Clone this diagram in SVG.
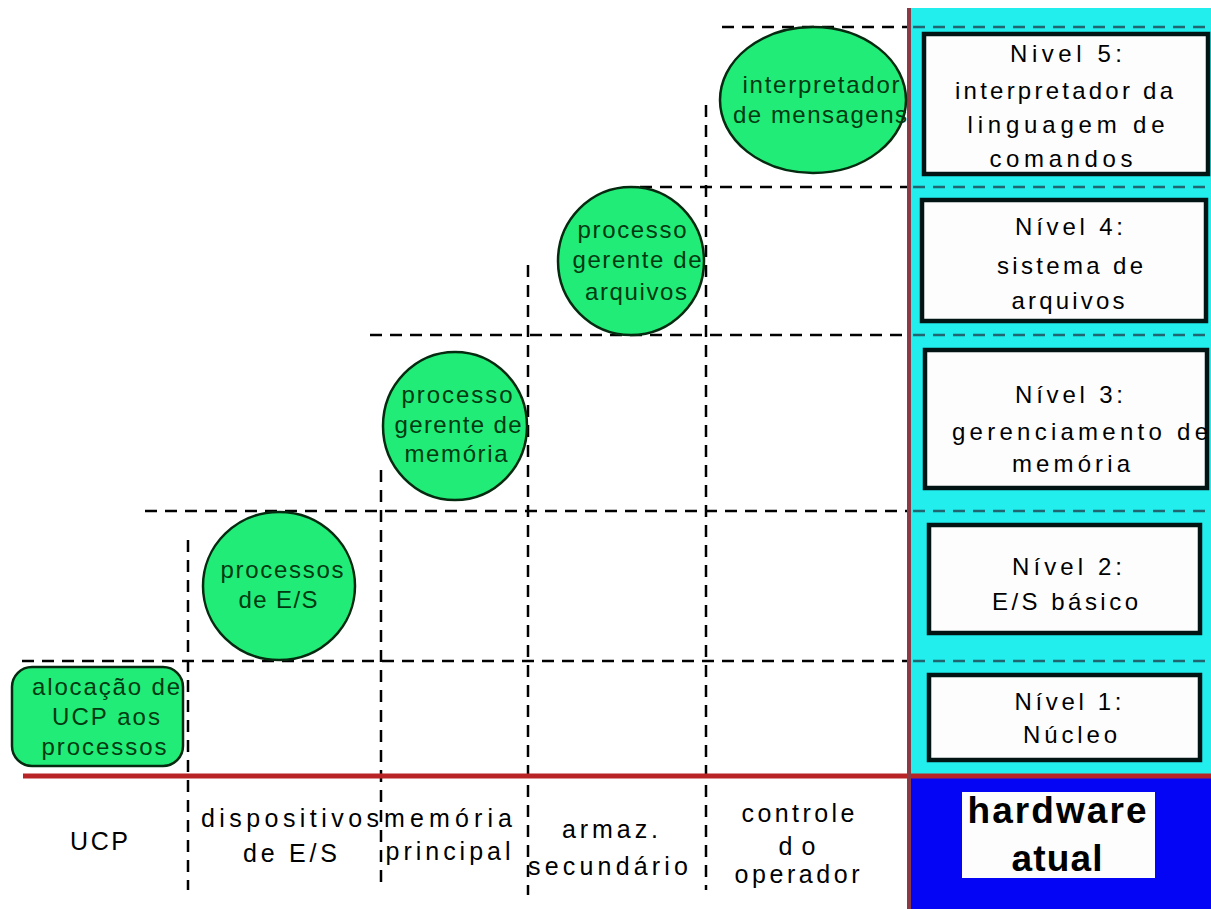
<svg xmlns="http://www.w3.org/2000/svg" width="1211" height="909" viewBox="0 0 1211 909">
<style>
.grid{stroke:#000;stroke-width:2.5;stroke-dasharray:12 8;fill:none}
.gridc{stroke:#1f6670;stroke-width:2.5;stroke-dasharray:12 8;fill:none}
.proc{fill:#22ec78;stroke:#062a10;stroke-width:2.5}
.pt{font-family:"Liberation Sans",Arial,sans-serif;font-size:24px;fill:#003a10;text-anchor:middle}
.box{fill:#fdfdfd;stroke:#021414;stroke-width:4.5}
.bt{font-family:"Liberation Sans",Arial,sans-serif;font-size:24px;fill:#000;text-anchor:middle}
.lt{font-family:"Liberation Sans",Arial,sans-serif;font-size:25px;fill:#000;text-anchor:middle}
.hw{font-family:"Liberation Sans",Arial,sans-serif;font-size:37px;font-weight:bold;fill:#000;text-anchor:middle}
</style>
<rect x="0" y="0" width="1211" height="909" fill="#ffffff"/>
<!-- panels -->
<rect x="911" y="8" width="300" height="768" fill="#22eeee"/>
<rect x="911" y="776" width="300" height="133" fill="#0505f5"/>

<g id="connectors">
  <!-- horizontal dashed grid lines -->
  <line class="grid" x1="722" y1="27" x2="909" y2="27"/>
  <line class="gridc" x1="913" y1="27" x2="1211" y2="27"/>
  <line class="grid" x1="640" y1="187" x2="909" y2="187"/>
  <line class="gridc" x1="913" y1="187" x2="1211" y2="187"/>
  <line class="grid" x1="370" y1="335" x2="909" y2="335"/>
  <line class="gridc" x1="913" y1="335" x2="1211" y2="335"/>
  <line class="grid" x1="145" y1="511" x2="909" y2="511"/>
  <line class="gridc" x1="913" y1="511" x2="1211" y2="511"/>
  <line class="grid" x1="22" y1="661" x2="909" y2="661"/>
  <line class="gridc" x1="913" y1="661" x2="1211" y2="661"/>
  <!-- vertical dashed grid lines -->
  <line class="grid" x1="188" y1="540" x2="188" y2="890"/>
  <line class="grid" x1="381" y1="470" x2="381" y2="890"/>
  <line class="grid" x1="528" y1="265" x2="528" y2="895"/>
  <line class="grid" x1="706" y1="105" x2="706" y2="890"/>
  <!-- red axes -->
  <line x1="23" y1="776" x2="1211" y2="776" stroke="#b82426" stroke-width="5"/>
  <line x1="909" y1="8" x2="909" y2="909" stroke="#8a3a44" stroke-width="4"/>
</g>

<g id="n-alocacao">
  <rect class="proc" x="12" y="667" width="171" height="99" rx="20" ry="20"/>
  <text class="pt" x="106" y="695" textLength="148" lengthAdjust="spacing">alocação de</text>
  <text class="pt" x="106" y="725" textLength="108" lengthAdjust="spacing">UCP aos</text>
  <text class="pt" x="104" y="755" textLength="125" lengthAdjust="spacing">processos</text>
</g>

<g id="n-processos-es">
  <ellipse class="proc" cx="279" cy="586" rx="76" ry="74"/>
  <text class="pt" x="282" y="578" textLength="123" lengthAdjust="spacing">processos</text>
  <text class="pt" x="278" y="608" textLength="79" lengthAdjust="spacing">de E/S</text>
</g>

<g id="n-gerente-memoria">
  <ellipse class="proc" cx="455" cy="426" rx="72" ry="74"/>
  <text class="pt" x="457" y="403" textLength="111" lengthAdjust="spacing">processo</text>
  <text class="pt" x="458" y="433" textLength="127" lengthAdjust="spacing">gerente de</text>
  <text class="pt" x="456" y="462" textLength="103" lengthAdjust="spacing">memória</text>
</g>

<g id="n-gerente-arquivos">
  <ellipse class="proc" cx="631" cy="261" rx="73" ry="74"/>
  <text class="pt" x="632" y="238" textLength="109" lengthAdjust="spacing">processo</text>
  <text class="pt" x="637" y="268" textLength="129" lengthAdjust="spacing">gerente de</text>
  <text class="pt" x="636" y="300" textLength="102" lengthAdjust="spacing">arquivos</text>
</g>

<g id="n-interpretador">
  <ellipse class="proc" cx="813" cy="100" rx="93" ry="73"/>
  <text class="pt" x="821" y="93" textLength="157" lengthAdjust="spacing">interpretador</text>
  <text class="pt" x="820" y="123" textLength="174" lengthAdjust="spacing">de mensagens</text>
</g>

<g id="nivel5">
  <rect class="box" x="924" y="34" width="284" height="140"/>
  <text class="bt" x="1066" y="62" textLength="112" lengthAdjust="spacing">Nivel 5:</text>
  <text class="bt" x="1064" y="99" textLength="218" lengthAdjust="spacing">interpretador da</text>
  <text class="bt" x="1066" y="133" textLength="197" lengthAdjust="spacing">linguagem de</text>
  <text class="bt" x="1061" y="167" textLength="143" lengthAdjust="spacing">comandos</text>
</g>

<g id="nivel4">
  <rect class="box" x="922" y="200" width="284" height="121"/>
  <text class="bt" x="1069" y="235" textLength="108" lengthAdjust="spacing">Nível 4:</text>
  <text class="bt" x="1070" y="274" textLength="146" lengthAdjust="spacing">sistema de</text>
  <text class="bt" x="1068" y="309" textLength="113" lengthAdjust="spacing">arquivos</text>
</g>

<g id="nivel3">
  <rect class="box" x="925" y="350" width="282" height="138"/>
  <text class="bt" x="1069" y="403" textLength="108" lengthAdjust="spacing">Nível 3:</text>
  <text class="bt" x="1080" y="440" textLength="256" lengthAdjust="spacing">gerenciamento de</text>
  <text class="bt" x="1071" y="472" textLength="118" lengthAdjust="spacing">memória</text>
</g>

<g id="nivel2">
  <rect class="box" x="929" y="525" width="271" height="108"/>
  <text class="bt" x="1067" y="575" textLength="110" lengthAdjust="spacing">Nível 2:</text>
  <text class="bt" x="1065" y="610" textLength="146" lengthAdjust="spacing">E/S básico</text>
</g>

<g id="nivel1">
  <rect class="box" x="929" y="675" width="271" height="85"/>
  <text class="bt" x="1068" y="710" textLength="107" lengthAdjust="spacing">Nível 1:</text>
  <text class="bt" x="1070" y="743" textLength="94" lengthAdjust="spacing">Núcleo</text>
</g>

<g id="hardware">
  <rect x="962" y="792" width="193" height="86" fill="#fdfdfd"/>
  <text class="hw" x="1057" y="823" textLength="179" lengthAdjust="spacing">hardware</text>
  <text class="hw" x="1057" y="871" textLength="91" lengthAdjust="spacing">atual</text>
</g>

<g id="labels">
  <text class="lt" x="99" y="850" textLength="58" lengthAdjust="spacing">UCP</text>
  <text class="lt" x="290" y="827" textLength="178" lengthAdjust="spacing">dispositivos</text>
  <text class="lt" x="290" y="862" textLength="94" lengthAdjust="spacing">de E/S</text>
  <text class="lt" x="448" y="827" textLength="128" lengthAdjust="spacing">memória</text>
  <text class="lt" x="448" y="860" textLength="125" lengthAdjust="spacing">principal</text>
  <text class="lt" x="610" y="838" textLength="96" lengthAdjust="spacing">armaz.</text>
  <text class="lt" x="608" y="875" textLength="160" lengthAdjust="spacing">secundário</text>
  <text class="lt" x="798" y="822" textLength="113" lengthAdjust="spacing">controle</text>
  <text class="lt" x="797" y="855" textLength="37" lengthAdjust="spacing">do</text>
  <text class="lt" x="797" y="883" textLength="125" lengthAdjust="spacing">operador</text>
</g>
</svg>
